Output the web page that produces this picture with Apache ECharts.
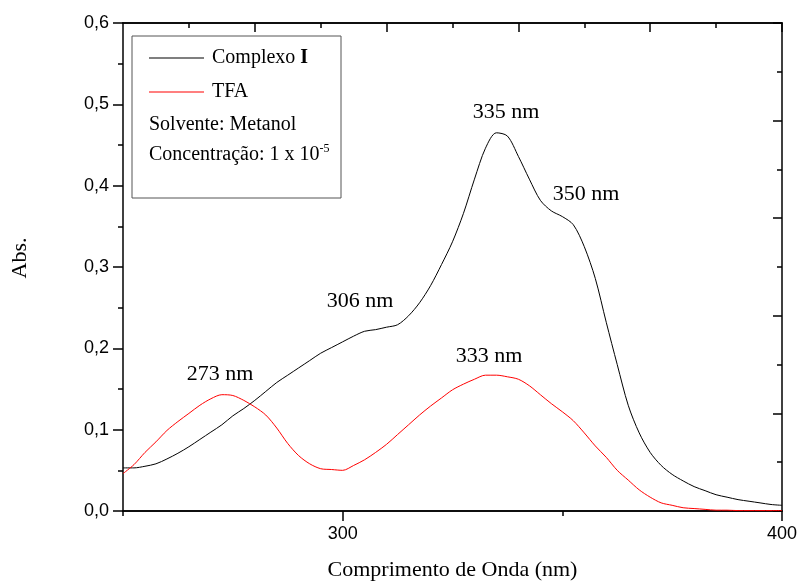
<!DOCTYPE html>
<html>
<head>
<meta charset="utf-8">
<script src="https://cdn.jsdelivr.net/npm/echarts@6/dist/echarts.min.js"></script>
<style>
  html, body { margin: 0; padding: 0; background: #fff; }
  #chart { width: 800px; height: 586px; }
</style>
</head>
<body>
<div id="chart"></div>
<script>
// wavelength grid (nm)
var wavelength = [250, 252.5, 255, 257.5, 260, 262.5, 265, 267.5, 270, 272.5,
    275, 277.5, 280, 282.5, 285, 287.5, 290, 292.5, 295, 297.5,
    300, 302.5, 305, 307.5, 310, 312.5, 315, 317.5, 320, 322.5,
    325, 327.5, 330, 332.5, 335, 337.5, 340, 342.5, 345, 347.5,
    350, 352.5, 355, 357.5, 360, 362.5, 365, 367.5, 370, 372.5,
    375, 377.5, 380, 382.5, 385, 387.5, 390, 392.5, 395, 397.5, 400];

var complexoAbs = [0.053, 0.053, 0.055, 0.058, 0.064, 0.071, 0.079, 0.088, 0.097, 0.106,
    0.117, 0.126, 0.136, 0.147, 0.158, 0.167, 0.176, 0.185, 0.194, 0.201,
    0.208, 0.215, 0.221, 0.223, 0.226, 0.229, 0.240, 0.256, 0.277, 0.303,
    0.331, 0.366, 0.408, 0.446, 0.465, 0.461, 0.436, 0.408, 0.382, 0.369,
    0.362, 0.352, 0.325, 0.286, 0.232, 0.180, 0.130, 0.096, 0.072, 0.056,
    0.045, 0.037, 0.030, 0.025, 0.020, 0.017, 0.014, 0.012, 0.010, 0.008, 0.007];

var tfaAbs = [0.046, 0.057, 0.072, 0.085, 0.099, 0.110, 0.120, 0.130, 0.138, 0.143,
    0.142, 0.136, 0.128, 0.118, 0.102, 0.083, 0.068, 0.058, 0.052, 0.051,
    0.050, 0.056, 0.063, 0.072, 0.082, 0.094, 0.106, 0.118, 0.129, 0.139,
    0.149, 0.156, 0.162, 0.167, 0.167, 0.165, 0.162, 0.154, 0.143, 0.132,
    0.122, 0.111, 0.096, 0.080, 0.066, 0.050, 0.038, 0.026, 0.017, 0.010,
    0.007, 0.004, 0.003, 0.002, 0.001, 0.001, 0.0005, 0.0005, 0.0005, 0.0005, 0.0005];

// tick positions
var bottomMajor = [300, 400];
var bottomMinor = [250, 350];
var topMajor = [280, 310, 340, 370, 400];
var topMinor = [265, 295, 325, 355, 385];

// peak labels
var peakLabels = [
    { text: '273 nm', x: 220, y: 374 },
    { text: '306 nm', x: 360, y: 301 },
    { text: '335 nm', x: 506, y: 112 },
    { text: '350 nm', x: 586, y: 194 },
    { text: '333 nm', x: 489, y: 356 }
];

var serif = '"Liberation Serif", "Times New Roman", serif';
var sans = '"Liberation Sans", Arial, sans-serif';

function pairs(xs, ys) {
    return xs.map(function (x, i) { return [x, ys[i]]; });
}

var axisLine = { show: true, lineStyle: { color: '#000', width: 1.5 } };

var chart = echarts.init(document.getElementById('chart'));

var graphics = [{
    type: 'rect',
    shape: { x: 132, y: 36, width: 209, height: 162 },
    style: { fill: 'none', stroke: '#555', lineWidth: 1 },
    z: 10
}, {
    type: 'text',
    left: 149, top: 115,
    style: { text: 'Solvente: Metanol', font: '20px ' + serif, fill: '#000' },
    z: 10
}, {
    type: 'text',
    left: 149, top: 143,
    style: {
        text: 'Concentração: 1 x 10{s|-5}',
        font: '20px ' + serif, fill: '#000',
        rich: { s: { fontSize: 12, fontFamily: serif, padding: [0, 0, 12, 0] } }
    },
    z: 10
}, {
    type: 'text',
    x: 20, y: 258, rotation: Math.PI / 2,
    style: {
        text: 'Abs.', font: '22px ' + serif, fill: '#000',
        align: 'center', verticalAlign: 'middle'
    },
    z: 10
}];
peakLabels.forEach(function (p) {
    graphics.push({
        type: 'text',
        x: p.x, y: p.y,
        style: {
            text: p.text, font: '22px ' + serif, fill: '#000',
            align: 'center', verticalAlign: 'middle'
        },
        z: 10
    });
});

chart.setOption({
    animation: false,
    grid: { left: 123, right: 17, top: 23, bottom: 72 },
    legend: {
        orient: 'vertical',
        left: 149, top: 47,
        padding: 0,
        itemWidth: 55, itemHeight: 1,
        itemGap: 12,
        icon: 'rect',
        selectedMode: false,
        data: ['Complexo I', 'TFA'],
        formatter: function (name) {
            return name === 'Complexo I' ? 'Complexo {b|I}' : name;
        },
        textStyle: {
            fontFamily: serif, fontSize: 20, color: '#000', lineHeight: 22,
            padding: [0, 0, 0, 3],
            rich: { b: { fontFamily: serif, fontSize: 20, fontWeight: 'bold', color: '#000' } }
        }
    },
    xAxis: [{
        type: 'value', position: 'bottom',
        min: 250, max: 400, interval: 50,
        name: 'Comprimento de Onda (nm)', nameLocation: 'middle', nameGap: 48,
        nameTextStyle: { fontFamily: serif, fontSize: 22, color: '#000' },
        axisLine: axisLine,
        axisTick: { show: true, length: 10, customValues: bottomMajor, lineStyle: { color: '#000', width: 1.5 } },
        axisLabel: { customValues: bottomMajor, fontFamily: sans, fontSize: 18, color: '#000', margin: 14 },
        splitLine: { show: false }
    }, {
        type: 'value', position: 'bottom',
        min: 250, max: 400, interval: 50,
        axisLine: axisLine,
        axisTick: { show: true, length: 5, customValues: bottomMinor, lineStyle: { color: '#000', width: 1.5 } },
        axisLabel: { show: false },
        splitLine: { show: false }
    }, {
        type: 'value', position: 'top',
        min: 250, max: 400, interval: 50,
        axisLine: axisLine,
        axisTick: { show: true, inside: true, length: 9, customValues: topMajor, lineStyle: { color: '#000', width: 1.5 } },
        axisLabel: { show: false },
        splitLine: { show: false }
    }, {
        type: 'value', position: 'top',
        min: 250, max: 400, interval: 50,
        axisLine: axisLine,
        axisTick: { show: true, inside: true, length: 5, customValues: topMinor, lineStyle: { color: '#000', width: 1.5 } },
        axisLabel: { show: false },
        splitLine: { show: false }
    }],
    yAxis: [{
        type: 'value', position: 'left',
        min: 0, max: 0.6, interval: 0.1,
        axisLine: axisLine,
        axisTick: { show: true, length: 10, lineStyle: { color: '#000', width: 1.5 } },
        minorTick: { show: true, splitNumber: 2, length: 5, lineStyle: { color: '#000', width: 1.5 } },
        axisLabel: {
            fontFamily: sans, fontSize: 18, color: '#000', margin: 14,
            formatter: function (v) { return v.toFixed(1).replace('.', ','); }
        },
        splitLine: { show: false }
    }, {
        type: 'value', position: 'right',
        min: 0, max: 0.6, interval: 0.12,
        axisLine: axisLine,
        axisTick: { show: true, inside: true, length: 9, lineStyle: { color: '#000', width: 1.5 } },
        minorTick: { show: true, splitNumber: 2, length: 5, lineStyle: { color: '#000', width: 1.5 } },
        axisLabel: { show: false },
        splitLine: { show: false },
        minorSplitLine: { show: false }
    }],
    series: [{
        name: 'Complexo I',
        type: 'line',
        data: pairs(wavelength, complexoAbs),
        showSymbol: false,
        smooth: 0.3,
        lineStyle: { color: '#000', width: 1 },
        itemStyle: { color: '#000' }
    }, {
        name: 'TFA',
        type: 'line',
        data: pairs(wavelength, tfaAbs),
        showSymbol: false,
        smooth: 0.3,
        lineStyle: { color: '#ff0000', width: 1 },
        itemStyle: { color: '#ff0000' }
    }],
    graphic: graphics
});
</script>
</body>
</html>
